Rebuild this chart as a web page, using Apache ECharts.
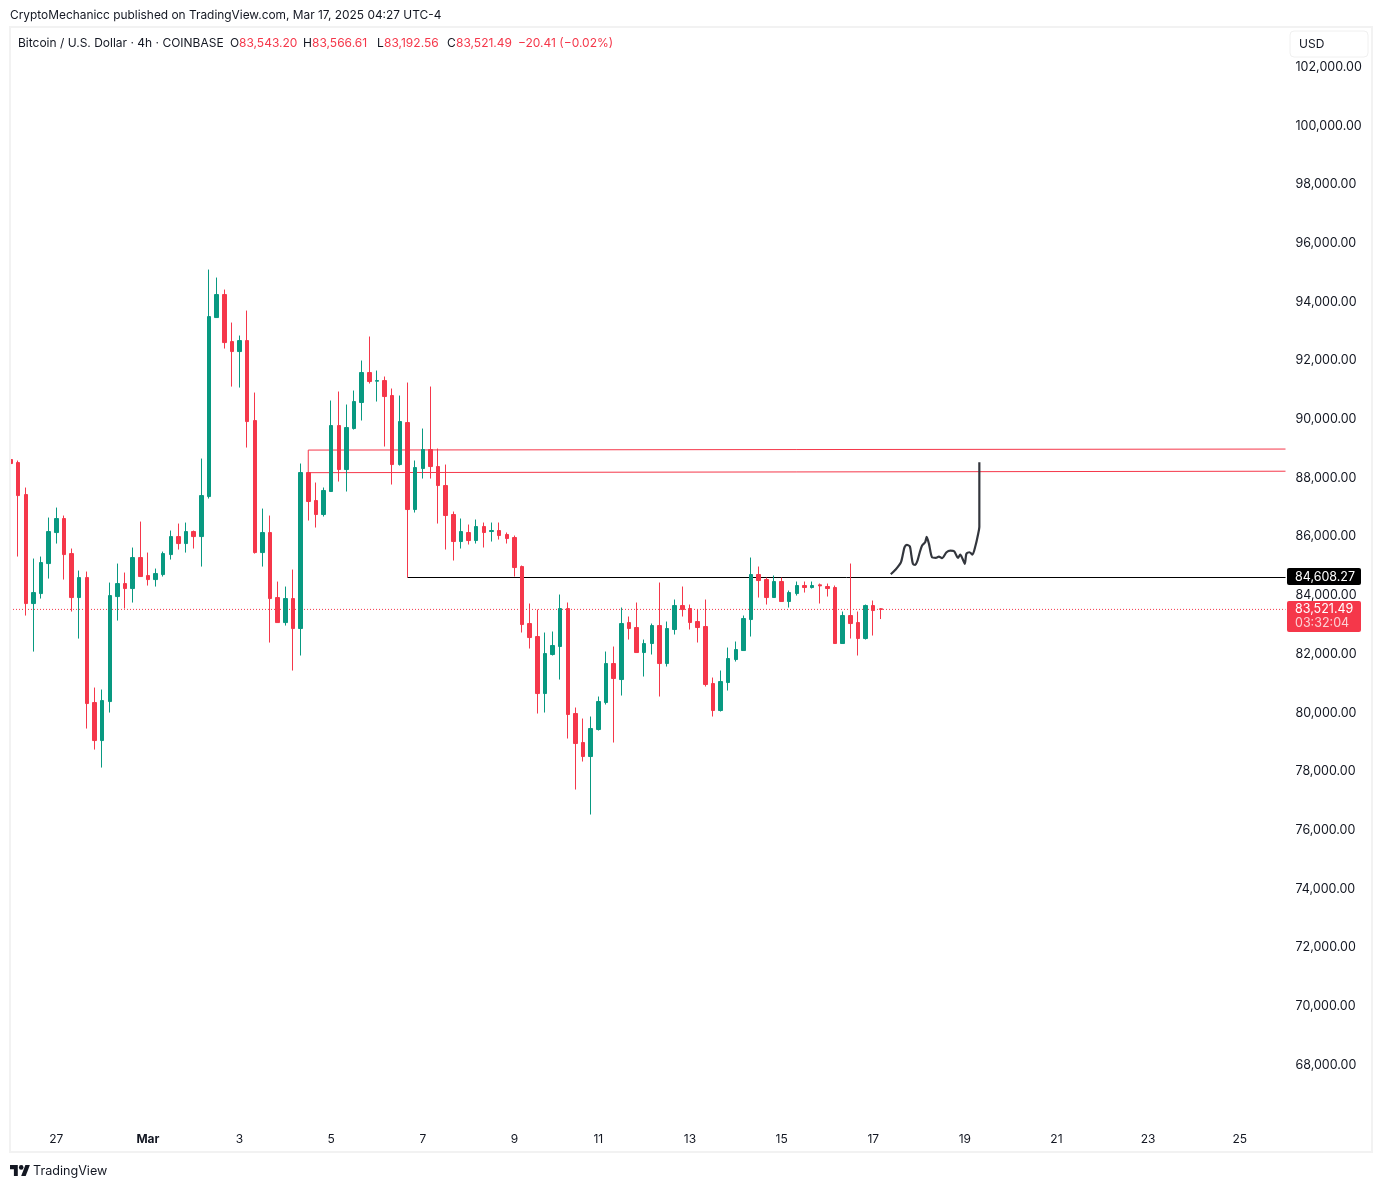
<!DOCTYPE html>
<html><head><meta charset="utf-8">
<style>html,body{margin:0;padding:0;background:#fff}#c{width:1382px;height:1187px}</style>
<script src="https://cdn.jsdelivr.net/npm/echarts@6/dist/echarts.min.js"></script>
</head><body><div id="c"></div>
<script>
const opens=[88627,88525,87434,83721,84061,85083,86140,86617,85424,83925,84606,80348,79053,80382,83959,84402,84232,85288,84675,84538,84709,85390,86003,85765,86174,86003,87366,93465,94249,92647,92307,92681,89956,85458,86140,83925,83073,83891,82870,88185,
87231,86754,87538,89786,88287,89684,90570,91592,91297,91319,
90808,88457,89888,86924,88321,88969,88389,87742,86754,85834,
86141,85868,86345,86175,86209,86073,85970,84982,83040,82597,
80655,81984,82257,83551,79974,78986,78509,79429,80348,81677,
81132,83074,82904,82052,82359,82972,81677,82836,83653,83551,
83108,82938,80996,80076,81030,81814,82120,83176,84710,84539,
83926,84471,83790,84062,84335,84267,84358,84301,84267,82359,
83313,83074,82529,83653,83543.20];
const closes=[88491,87400,83721,84095,85118,86174,86617,85390,83925,84606,80314,79053,80416,83993,84402,84232,85288,84641,84538,84743,85424,86003,85765,86174,86003,87400,93499,94249,92613,92307,92681,89922,85458,86140,83891,83073,83891,82869,88185,87197,
86754,87572,89786,88287,89718,90604,91592,91285,91319,90774,
88457,89923,86924,88355,88969,88389,87742,86720,85834,86175,
85868,86345,86141,86209,86038,85936,84948,83006,82563,80655,
82018,82291,83551,79940,78952,78509,79463,80383,81677,81166,
83040,82870,82052,82359,82972,81677,82870,83653,83517,83074,
82904,80962,80076,81064,81848,82154,83210,84710,84505,83926,
84471,83790,84096,84335,84267,84335,84323,84233,82359,83313,
83040,82529,83653,83483,83521.49];
const lows=[88014,85322,83312,82085,83891,84572,85765,84538,83448,82528,79462,78746,78133,80007,83141,83550,83755,84641,84334,84300,84641,85220,85561,85458,85595,84981,87298,93465,92409,91114,91080,89036,85424,84981,82392,83073,82971,81438,81950,86550,
86311,86686,87538,87878,87538,89650,89957,91217,90604,89071,
87776,88423,84608,86822,87980,87980,86447,85561,85187,85596,
85732,85766,85630,85834,85902,85766,84642,82734,82188,79974,
80008,81950,81132,79122,77384,78338,76533,79395,80280,78986,
80587,82495,82052,81234,81984,80553,81575,82665,83279,82836,
82393,80894,79872,80042,80757,81745,82120,82597,83926,83687,
83926,83790,83585,83994,84096,84233,83722,83960,82359,82359,
82529,81950,82495,82631,83192.56];
const highs=[89240,88593,87673,85254,85322,86651,86991,86719,85595,84845,84811,80859,80791,84436,85083,84777,85629,86514,85458,84913,85492,86208,86446,86480,86208,88661,95100,94828,94419,93295,92852,93703,90910,86957,86719,84470,84300,84879,88492,88200,
87844,87674,90638,90945,90502,90979,92001,92819,91660,91456,
91047,90808,91251,88594,89684,91115,89003,88457,86856,86618,
86413,86584,86481,86481,86481,86141,86038,85016,83722,83517,
82734,82768,84028,83756,80178,79803,79872,80553,82086,82256,
83585,83279,83756,82495,83040,84437,83108,83858,84301,83687,
83517,83858,81200,81439,82222,82427,83313,85289,84982,84607,
84676,84607,84164,84471,84471,84471,84403,84403,84335,83449,
85084,83449,83687,83824,83566.61];

const tickSlots=[6,18,30,42,54,66,77,89,101,113,125,137,149,161];
const tickLabels=['27','Mar','3','5','7','9','11','13','15','17','19','21','23','25'];

const upperZone=[[39,88185],[39,88950],[167,88985]];
const lowerZone=[[39,88180],[167,88230]];
const supportLine=[[52,84608.27],[167,84608.27]];
const lastPriceLine=[[0,83521.49],[167,83521.49]];
const sketchSlots=[115.3,115.9,116.6,116.9,117.1,117.4,117.8,118.0,118.2,118.5,118.8,119.1,119.4,119.8,120.0,120.3,120.7,121.2,121.6,122.0,122.6,123.1,123.6,124.1,124.4,124.7,125.0,125.2,125.6,126.0,126.4,126.7,126.9,126.9];
const sketchPrices=[84720,84870,85108,85414,85640,85721,85663,85357,85074,85040,85186,85469,85697,85810,85994,85755,85299,85278,85323,85265,85469,85527,85503,85278,85391,85244,85074,85414,85469,85391,85697,86038,86345,88536];

const RED='#f5374a',GREEN='#089981',FONT='Inter',INK='#131722';
const publishedText='CryptoMechanicc published on TradingView.com, Mar 17, 2025 04:27 UTC-4';
const symbolText='Bitcoin / U.S. Dollar · 4h · COINBASE';
const ohlcText=[['O',230,INK],['83,543.20',239,RED],['H',303,INK],['83,566.61',312,RED],['L',377,INK],['83,192.56',384,RED],['C',447,INK],['83,521.49',456,RED],['−20.41 (−0.02%)',518,RED]];

const categories=Array.from({length:168},(_,i)=>{const k=tickSlots.indexOf(i);return k>=0?tickLabels[k]:'';});
const candles=opens.map((o,i)=>[o,closes[i],lows[i],highs[i]]);
const sketch=sketchSlots.map((x,i)=>[x,sketchPrices[i]]);

const text=(t,x,y,fill,size,extra)=>Object.assign({type:'text',x,y,silent:true,z:10,style:{text:t,fill,font:(size||12)+'px '+FONT,textVerticalAlign:'middle',textAlign:'left'}},extra||{});
const overlay=(data,color,width,type,z,name)=>({type:'line',name,xAxisIndex:1,data,symbol:'none',z,silent:true,animation:false,lineStyle:{color,width,type:type||'solid'}});

const chart=echarts.init(document.getElementById('c'),null,{renderer:'canvas'});
const lastLine=overlay(lastPriceLine,RED,1,[1,2],1,'last');
lastLine.lineStyle.dashOffset=0.5;
chart.setOption({
 animation:false,backgroundColor:'#fff',
 grid:{left:10.5,width:1275,top:37.71,height:1085.95,containLabel:false},
 xAxis:[
  {type:'category',data:categories,boundaryGap:false,axisLine:{show:false},axisTick:{show:false},splitLine:{show:false},
   axisLabel:{interval:(i,v)=>v!=='',margin:10,hideOverlap:false,color:INK,fontFamily:FONT,fontSize:12,
     formatter:v=>v==='Mar'?'{b|Mar}':v,rich:{b:{fontWeight:'bold',fontFamily:FONT,fontSize:12,color:INK}}}},
  {type:'value',show:false,min:0,max:167}
 ],
 yAxis:{type:'value',position:'right',min:66000,max:103000,interval:2000,splitLine:{show:false},axisLine:{show:false},axisTick:{show:false},
   axisLabel:{margin:10,color:INK,fontFamily:FONT,fontSize:12.5,align:'left',showMinLabel:true,showMaxLabel:true,
     formatter:v=>(v<68000||v>102000)?'':v.toLocaleString('en-US',{minimumFractionDigits:2,maximumFractionDigits:2})}},
 series:[
  overlay(upperZone,RED,1,'solid',1,'zoneTop'),
  overlay(lowerZone,RED,1,'solid',1,'zoneBottom'),
  overlay(supportLine,'#000',1,'solid',1,'support'),
  lastLine,
  {type:'candlestick',data:candles,barWidth:4,z:2,clip:true,silent:true,animation:false,
   itemStyle:{color:GREEN,color0:RED,borderColor:GREEN,borderColor0:RED,borderWidth:1}},
  Object.assign(overlay(sketch,'#33363d',2.2,'solid',3,'sketch'),{smooth:0.25})
 ],
 graphic:[
  {type:'rect',z:5,silent:true,shape:{x:0,y:28,width:10,height:1123},style:{fill:'#fff'}},
  {type:'rect',z:6,silent:true,shape:{x:10,y:27,width:1362,height:1125},style:{fill:'none',stroke:'#f2f2f2',lineWidth:2}},
  text(publishedText,10,15.5,INK,11.9),
  text(symbolText,18,43.7,INK,12),
  ...ohlcText.map(([t,x,c])=>text(t,x,43.7,c,12)),
  {type:'rect',z:9,silent:true,shape:{x:1290,y:31,width:78,height:26,r:4},style:{fill:'#fff',stroke:'#f0f0f0',lineWidth:1}},
  text('USD',1299,44,INK,12),
  {type:'rect',z:9,silent:true,shape:{x:1287,y:568,width:74,height:17,r:2},style:{fill:'#000'}},
  text('84,608.27',1295,577,'#fff',12.5),
  {type:'rect',z:9,silent:true,shape:{x:1287,y:601,width:74,height:31,r:2},style:{fill:RED}},
  text('83,521.49',1295,609,'#fff',12.5),
  text('03:32:04',1295,623,'#fcd0d4',12.5),
  {type:'polygon',z:10,silent:true,shape:{points:[[10,1165],[17.8,1165],[17.8,1176],[13.9,1176],[13.9,1169.3],[10,1169.3]]},style:{fill:INK}},
  {type:'polygon',z:10,silent:true,shape:{points:[[25.4,1165],[29.9,1165],[25.7,1176],[21.2,1176]]},style:{fill:INK}},
  {type:'circle',z:10,silent:true,shape:{cx:21.2,cy:1167.4,r:2.3},style:{fill:INK}},
  text('TradingView',33,1171,INK,12.6)
 ]
});
</script></body></html>
